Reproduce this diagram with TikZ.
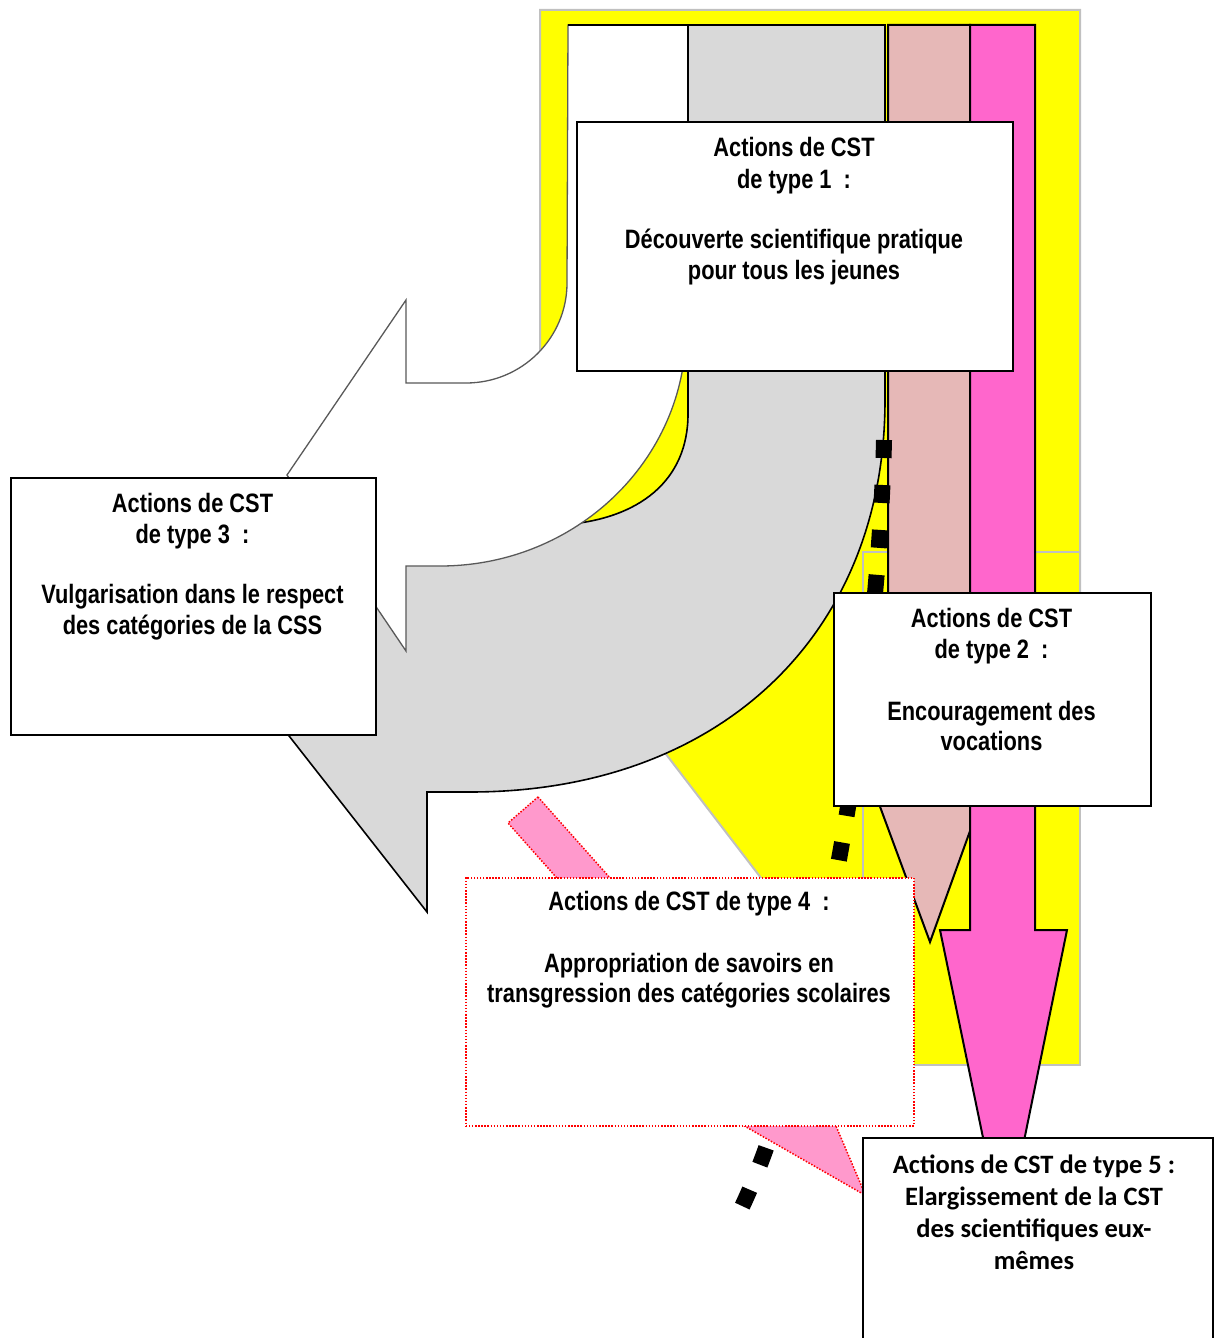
\documentclass[tikz,border=0pt]{standalone}
\usepackage{fontspec}
\newfontfamily\nbfont[FakeStretch=0.82]{Liberation Sans}
\newfontfamily\cbfont{Carlito}
\definecolor{yelF}{HTML}{FFFF00}
\definecolor{yelB}{HTML}{C0C0C0}
\definecolor{grayF}{HTML}{D9D9D9}
\definecolor{beigeF}{HTML}{E6B8B7}
\definecolor{pinkF}{HTML}{FF66CC}
\definecolor{lpinkF}{HTML}{FF99CC}
\begin{document}
\begin{tikzpicture}[x=1pt,y=-1pt,
  yelshape/.style={fill=yelF, draw=yelB, line width=2pt},
  colshape/.style={draw=black, line width=2pt, line join=miter},
  whiteshape/.style={fill=white, draw=black!65, line width=1.3pt},
  cstbox/.style={draw=black, line width=2pt, fill=white, inner sep=0pt, anchor=north west},
  redbox/.style={draw=red, line width=1.5pt, dash pattern=on 1.5pt off 1.6pt, fill=white, inner sep=0pt, anchor=north west},
  lbl/.style={anchor=base, inner sep=0pt, font=\nbfont\bfseries\fontsize{26.6pt}{32pt}\selectfont},
  lblc/.style={anchor=base, inner sep=0pt, font=\cbfont\bfseries\fontsize{26.5pt}{32pt}\selectfont},
  dotline/.style={draw=black, line width=16pt, dash pattern=on 18pt off 27pt}
]
\useasboundingbox (0,0) rectangle (1214,1338);
\clip (0,0) rectangle (1214,1338);
\fill[white] (0,0) rectangle (1214,1338);

% yellow background shapes
\path[yelshape] (540,10) -- (1080,10) -- (1080,700) -- (880,1033) -- (540,590) -- cycle;
\path[yelshape] (863,552) rectangle (1080,1065);

% grey curved arrow
\path[colshape, fill=grayF, line width=1.6pt] (688,25) -- (885,25) -- (885,400)
  .. controls (885,635) and (719,792) .. (470,792) -- (427,792) -- (427,912)
  -- (228,658) -- (427,405) -- (427,525) -- (560,525)
  .. controls (640,520) and (688,480) .. (688,414) -- cycle;

% white curved arrow
\path[whiteshape] (568,25) -- (688,25) -- (688,300) -- (686,330)
  .. controls (686,460) and (576,566) .. (440,566) -- (406,566) -- (406,651)
  -- (287,475) -- (406,300) -- (406,383) -- (466,383)
  .. controls (522,383) and (567,338) .. (567,283) -- cycle;
\draw[black, line width=1.6pt] (568,25) -- (688,25) -- (688,121);

% beige down arrow
\path[colshape, fill=beigeF] (888,25) -- (970,25) -- (970,720) -- (1010,720)
  -- (930,942) -- (848,720) -- (888,720) -- cycle;

% pink down arrow
\path[colshape, fill=pinkF] (970,25) -- (1035,25) -- (1035,930) -- (1067,930)
  -- (1004,1239) -- (940,930) -- (970,930) -- cycle;

% black dotted line
\path[dotline] (884,440) .. controls (878,700) and (815,1060) .. (738,1215);

% light pink diagonal arrow
\path[fill=lpinkF, draw=red, line width=1.5pt, dash pattern=on 1.5pt off 1.6pt]
  (538,797) -- (751.7,1037.2) -- (785.4,1007.3) -- (865.6,1195.5)
  -- (688.2,1093.7) -- (721.9,1063.8) -- (508,823) -- cycle;

% boxes
\node[cstbox, minimum width=436pt, minimum height=249pt] (box1) at (576,121) {};
\node[cstbox, minimum width=365pt, minimum height=257pt] (box3) at (10,477) {};
\node[cstbox, minimum width=317pt, minimum height=213pt] (box2) at (833,592) {};
\node[redbox, minimum width=448pt, minimum height=248pt] (box4) at (465,877) {};
\node[cstbox, minimum width=350pt, minimum height=230pt] (box5) at (862,1137) {};

% texts box 1
\node[lbl] (t1a) at (794,156) {Actions de CST};
\node[lbl] (t1b) at (794,188) {de type 1\ \ :};
\node[lbl] (t1c) at (794,248) {Découverte scientifique pratique};
\node[lbl] (t1d) at (794,279) {pour tous les jeunes};
% texts box 3
\node[lbl] (t3a) at (192.5,512) {Actions de CST};
\node[lbl] (t3b) at (192.5,543) {de type 3\ \ :};
\node[lbl] (t3c) at (192.5,603) {Vulgarisation dans le respect};
\node[lbl] (t3d) at (192.5,634) {des catégories de la CSS};
% texts box 2
\node[lbl] (t2a) at (991.5,627) {Actions de CST};
\node[lbl] (t2b) at (991.5,658) {de type 2\ \ :};
\node[lbl] (t2c) at (991.5,720) {Encouragement des};
\node[lbl] (t2d) at (991.5,750) {vocations};
% texts box 4
\node[lbl] (t4a) at (689,910) {Actions de CST de type 4\ \ :};
\node[lbl] (t4b) at (689,972) {Appropriation de savoirs en};
\node[lbl] (t4c) at (689,1002) {transgression des catégories scolaires};
% texts box 5
\node[lblc] (t5a) at (1034,1173) {Actions de CST de type 5 :};
\node[lblc] (t5b) at (1034,1205) {Elargissement de la CST};
\node[lblc] (t5c) at (1034,1237) {des scientifiques eux-};
\node[lblc] (t5d) at (1034,1269) {mêmes};
\end{tikzpicture}
\end{document}
